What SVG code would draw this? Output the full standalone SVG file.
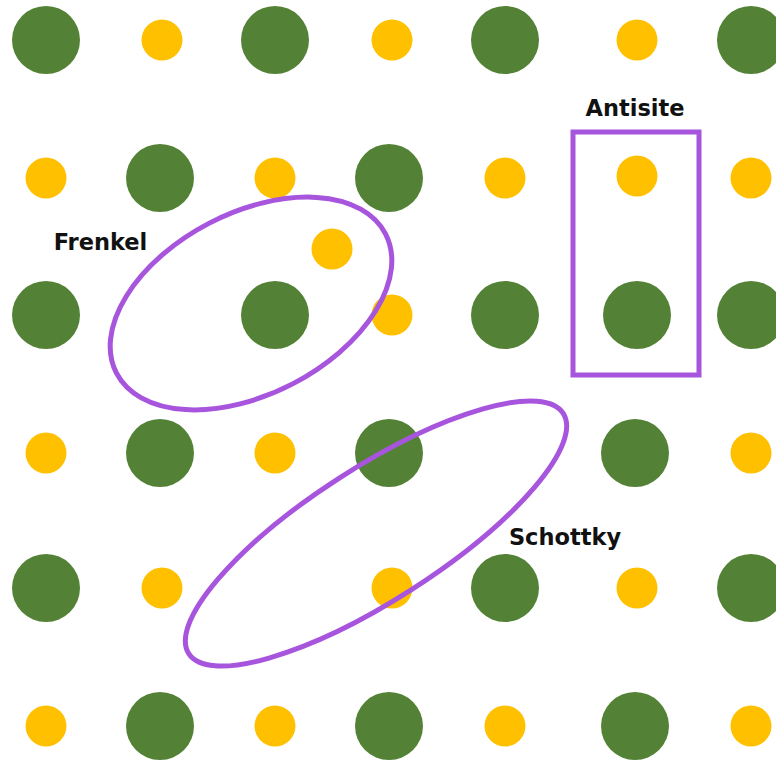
<svg xmlns="http://www.w3.org/2000/svg" width="776" height="760" viewBox="0 0 776 760">
<style>
.g{fill:#538135}
.y{fill:#FFC000}
.m{fill:none;stroke:#A855DE;stroke-width:5}
.t{font-family:"DejaVu Sans",sans-serif;font-weight:bold;font-size:22.5px;fill:#111;text-anchor:middle}
</style>
<rect width="776" height="760" fill="#fff"/>
<g id="atoms">
<g id="r0">
<circle class="g" cx="46" cy="40" r="34"/>
<circle class="y" cx="162" cy="40" r="20.5"/>
<circle class="g" cx="275" cy="40" r="34"/>
<circle class="y" cx="392" cy="40" r="20.5"/>
<circle class="g" cx="505" cy="40" r="34"/>
<circle class="y" cx="637" cy="40" r="20.5"/>
<circle class="g" cx="751" cy="40" r="34"/>
</g>
<g id="r1">
<circle class="y" cx="46" cy="178" r="20.5"/>
<circle class="g" cx="160" cy="178" r="34"/>
<circle class="y" cx="275" cy="178" r="20.5"/>
<circle class="g" cx="389" cy="178" r="34"/>
<circle class="y" cx="505" cy="178" r="20.5"/>
<circle class="y" cx="637" cy="176" r="20.5"/>
<circle class="y" cx="751" cy="178" r="20.5"/>
</g>
<g id="r2">
<circle class="g" cx="46" cy="315" r="34"/>
<circle class="g" cx="275" cy="315" r="34"/>
<circle class="y" cx="332" cy="249" r="20.5"/>
<circle class="y" cx="392" cy="315" r="20.5"/>
<circle class="g" cx="505" cy="315" r="34"/>
<circle class="g" cx="637" cy="315" r="34"/>
<circle class="g" cx="751" cy="315" r="34"/>
</g>
<g id="r3">
<circle class="y" cx="46" cy="453" r="20.5"/>
<circle class="g" cx="160" cy="453" r="34"/>
<circle class="y" cx="275" cy="453" r="20.5"/>
<circle class="g" cx="389" cy="453" r="34"/>
<circle class="g" cx="635" cy="453" r="34"/>
<circle class="y" cx="751" cy="453" r="20.5"/>
</g>
<g id="r4">
<circle class="g" cx="46" cy="588" r="34"/>
<circle class="y" cx="162" cy="588" r="20.5"/>
<circle class="y" cx="392" cy="588" r="20.5"/>
<circle class="g" cx="505" cy="588" r="34"/>
<circle class="y" cx="637" cy="588" r="20.5"/>
<circle class="g" cx="751" cy="588" r="34"/>
</g>
<g id="r5">
<circle class="y" cx="46" cy="726" r="20.5"/>
<circle class="g" cx="160" cy="726" r="34"/>
<circle class="y" cx="275" cy="726" r="20.5"/>
<circle class="g" cx="389" cy="726" r="34"/>
<circle class="y" cx="505" cy="726" r="20.5"/>
<circle class="g" cx="635" cy="726" r="34"/>
<circle class="y" cx="751" cy="726" r="20.5"/>
</g>
</g>
<g id="frenkel">
<ellipse class="m" cx="251" cy="303.5" rx="151.5" ry="90.5" transform="rotate(-27.4 251 303.5)"/>
<text class="t" x="100.5" y="250">Frenkel</text>
</g>
<g id="schottky">
<ellipse class="m" cx="376" cy="533.5" rx="222.5" ry="66.5" transform="rotate(-32.7 376 533.5)"/>
<text class="t" x="565" y="545">Schottky</text>
</g>
<g id="antisite">
<rect class="m" x="573" y="132" width="126" height="243"/>
<text class="t" x="635" y="116">Antisite</text>
</g>
</svg>
